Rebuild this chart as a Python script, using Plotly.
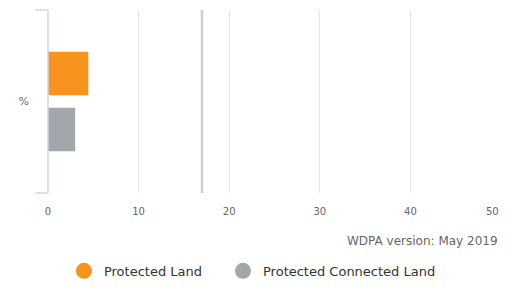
import plotly.graph_objects as go

categories = ["%"]
series_names = ["Protected Land", "Protected Connected Land"]
protected_land = [4.45]
protected_connected = [3.0]
target_value = 17
x_ticks = [0, 10, 20, 30, 40, 50]
source_note = "WDPA version: May 2019"

colors = ["#f7941d", "#a1a7ab"]
FONT = "DejaVu Sans"

fig = go.Figure()
# gray first so that orange sits on top in horizontal grouping
fig.add_trace(go.Bar(y=categories, x=protected_connected, orientation="h",
                     marker=dict(color=colors[1], line=dict(width=0)),
                     showlegend=False, name=series_names[1]))
fig.add_trace(go.Bar(y=categories, x=protected_land, orientation="h",
                     marker=dict(color=colors[0], line=dict(width=0)),
                     showlegend=False, name=series_names[0]))
# legend entries with circle symbols (one legend box each)
for name, c, lg in zip(series_names, colors, ["legend", "legend2"]):
    fig.add_trace(go.Scatter(x=[None], y=[None], mode="markers", name=name,
                             legend=lg,
                             marker=dict(symbol="circle", size=16, color=c)))

# last tick label is drawn shifted left (inside the chart) as in the reference
tick_text = [str(v) for v in x_ticks[:-1]] + [""]

legend_common = dict(orientation="h", xref="container", yref="container",
                     xanchor="left", y=0.061, yanchor="middle",
                     font=dict(size=13, color="#333333"), itemwidth=30,
                     bgcolor="rgba(0,0,0,0)")

# page body has an 8px margin, so the figure is 504x280
fig.update_layout(
    width=504, height=280,
    margin=dict(l=40, r=11, t=2, b=95),
    paper_bgcolor="white", plot_bgcolor="white",
    font=dict(family=FONT, color="#666666", size=11),
    barmode="group", bargap=0.39, bargroupgap=0.22,
    xaxis=dict(range=[0, 50], tickvals=x_ticks, ticktext=tick_text,
               showgrid=True, gridcolor="#e6e6e6",
               gridwidth=1, zeroline=False, showline=False, ticks="",
               tickfont=dict(size=10, color="#666666"), ticklabelstandoff=11,
               fixedrange=True, automargin=False),
    yaxis=dict(type="category", showgrid=False, zeroline=False, showline=False,
               ticks="", tickfont=dict(size=11, color="#666666"),
               ticklabelstandoff=18, fixedrange=True, automargin=False),
    legend=dict(x=0.111, **legend_common),
    legend2=dict(x=0.4266, **legend_common),
    shapes=[
        dict(type="line", xref="x", yref="paper", x0=target_value, x1=target_value,
             y0=0, y1=1, line=dict(color="#c9ced3", width=2.5)),
        dict(type="line", xref="paper", yref="paper", x0=0, x1=0, y0=0, y1=1,
             line=dict(color="#ccd6eb", width=1.5)),
        dict(type="line", xref="paper", yref="paper", x0=-0.028, x1=0, y0=0, y1=0,
             line=dict(color="#ccd6eb", width=1.5)),
        dict(type="line", xref="paper", yref="paper", x0=-0.028, x1=0, y0=1, y1=1,
             line=dict(color="#ccd6eb", width=1.5)),
    ],
    annotations=[
        dict(text=str(x_ticks[-1]), xref="paper", yref="paper",
             x=1.0, y=0, yshift=-18, xshift=0, xanchor="right", yanchor="middle",
             showarrow=False, font=dict(size=10, color="#666666")),
        dict(text=source_note, xref="paper", yref="paper",
             x=0.998, y=-0.262, xanchor="right", yanchor="middle",
             showarrow=False, font=dict(size=12, color="#666666")),
    ],
)

fig.write_html("out.html")
